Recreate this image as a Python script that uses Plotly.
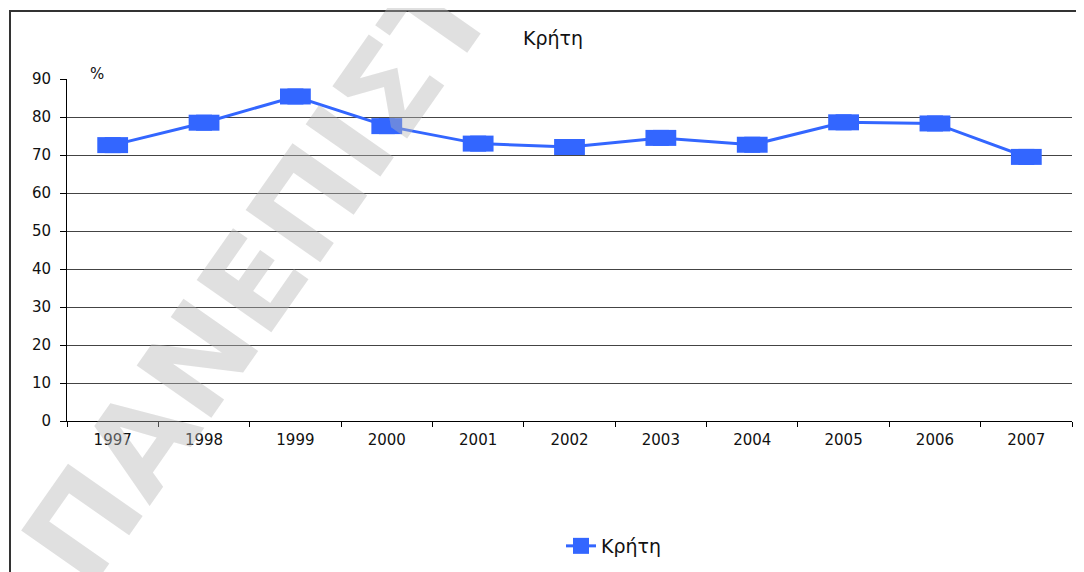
import plotly.graph_objects as go

years = ["1997", "1998", "1999", "2000", "2001", "2002", "2003", "2004", "2005", "2006", "2007"]
values = [72.6, 78.5, 85.4, 77.6, 73.0, 72.1, 74.5, 72.7, 78.6, 78.3, 69.5]
series_name = "Κρήτη"
title_text = "Κρήτη"
y_ticks = [0, 10, 20, 30, 40, 50, 60, 70, 80, 90]
watermark_text = "ΠΑΝΕΠΙΣΤΗΜΙΟ"

OFF = 8  # page body margin
W, H = 1084 - OFF, 572 - OFF
L, T = 67 - OFF, 79 - OFF
R = W - (1072 - OFF)
B = H - (421 - OFF)
pw, ph = W - L - R, H - T - B

def px_x(x):  # page px -> plot paper fraction
    return (x - OFF - L) / pw

def px_y(y):
    return 1 - (y - OFF - T) / ph

blue = "#3366FF"
font = "DejaVu Sans"
txt = "#111111"

fig = go.Figure()
fig.add_trace(go.Scatter(
    x=years, y=values, name=series_name, mode="lines+markers",
    line=dict(color=blue, width=3),
    marker=dict(symbol="square", size=16, color=blue, line=dict(width=0)),
))
fig.add_trace(go.Scatter(
    x=years, y=values, mode="markers", showlegend=False, hoverinfo="skip",
    marker=dict(symbol="line-ew", size=22, color=blue, line=dict(width=16, color=blue)),
))

fig.update_layout(
    width=W, height=H,
    margin=dict(l=L, r=R, t=T, b=B, autoexpand=False),
    paper_bgcolor="white", plot_bgcolor="white",
    font=dict(family=font, size=15, color=txt),
    title=dict(text=title_text, xref="container", x=(553 - OFF) / W, xanchor="center",
               yref="container", y=1 - (38 - OFF) / H, yanchor="middle",
               font=dict(family=font, size=19, color=txt)),
    showlegend=True,
    legend=dict(orientation="h", x=px_x(614), xanchor="center", y=px_y(546), yanchor="middle",
                font=dict(family=font, size=19, color=txt), bgcolor="rgba(0,0,0,0)",
                itemsizing="trace"),
    xaxis=dict(type="category", range=[-0.5, 10.5], showgrid=False, showline=True,
               linecolor="#000000", linewidth=1,
               ticks="outside", tickson="boundaries", ticklen=5, tickcolor="#000000",
               ticklabelstandoff=5, tickfont=dict(family=font, size=15, color=txt),
               zeroline=False, fixedrange=True),
    yaxis=dict(range=[0, 90], tickvals=y_ticks, showgrid=True, gridcolor="#444444", gridwidth=1,
               showline=True, linecolor="#000000", linewidth=1, ticks="outside", ticklen=6,
               tickcolor="#000000", ticklabelstandoff=6,
               tickfont=dict(family=font, size=15, color=txt), zeroline=False, fixedrange=True),
    shapes=[dict(type="rect", xref="paper", yref="paper",
                 x0=px_x(10), x1=px_x(1100), y0=px_y(600), y1=px_y(11),
                 line=dict(color="#333333", width=2), fillcolor="rgba(0,0,0,0)", layer="below")],
    annotations=[
        dict(text="%", xref="paper", yref="paper", x=px_x(97), y=px_y(85), xanchor="center",
             yanchor="bottom", showarrow=False, font=dict(family=font, size=15, color=txt)),
        dict(text=watermark_text, xref="paper", yref="paper", x=px_x(367), y=px_y(119),
             xanchor="center", yanchor="middle", textangle=-55, showarrow=False,
             font=dict(family="DejaVu Sans", size=125, weight="bold", color="rgba(181,181,181,0.42)")),
    ],
)

fig.write_html("out.html")
